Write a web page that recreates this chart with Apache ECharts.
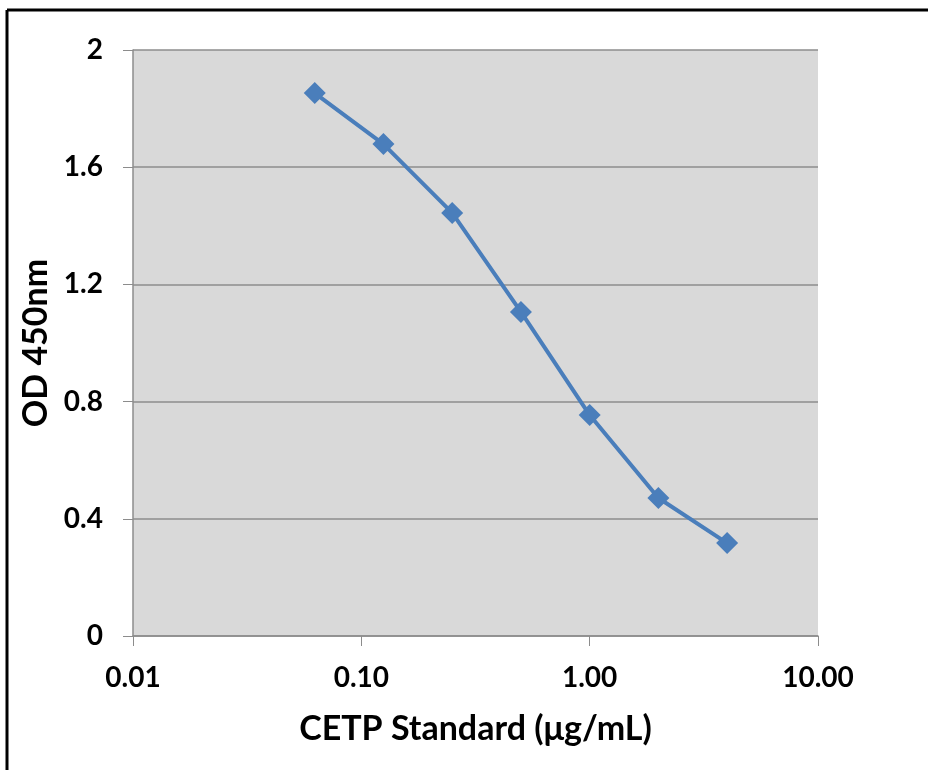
<!DOCTYPE html>
<html><head><meta charset="utf-8">
<script src="https://cdn.jsdelivr.net/npm/echarts@6/dist/echarts.min.js"></script>
<style>html,body{margin:0;padding:0;background:#fff}#c{width:928px;height:770px}</style>
</head><body><div id="c"></div>
<script>
const concentrations = [0.0625, 0.125, 0.25, 0.5, 1, 2, 4];
const odValues = [1.853, 1.679, 1.444, 1.106, 0.754, 0.471, 0.317];
const xTitle = 'CETP Standard (\u03bcg/mL)';
const yTitle = 'OD 450nm';

const chart = echarts.init(document.getElementById('c'));
const font = 'Lato, "Open Sans", sans-serif';
chart.setOption({
  animation: false,
  grid: {left: 133, right: 110, top: 50, bottom: 134, show: true, backgroundColor: '#d9d9d9', borderWidth: 0},
  graphic: [
    {type: 'line', shape: {x1: 7, y1: 10, x2: 928, y2: 10}, style: {stroke: '#000', lineWidth: 3}},
    {type: 'line', shape: {x1: 7, y1: 10, x2: 7, y2: 770}, style: {stroke: '#000', lineWidth: 3}}
  ],
  xAxis: {
    type: 'log', logBase: 10, min: 0.01, max: 10,
    axisLine: {lineStyle: {color: '#8c8c8c', width: 1.5}},
    axisTick: {show: true, length: 10, lineStyle: {color: '#8c8c8c'}},
    splitLine: {show: false},
    minorTick: {show: false},
    axisLabel: {margin: 28, color: '#000', fontFamily: font, fontWeight: 'bold', fontSize: 28,
      formatter: v => Number(v).toFixed(2)},
    name: xTitle, nameLocation: 'middle', nameGap: 76,
    nameTextStyle: {color: '#000', fontFamily: font, fontWeight: 'bold', fontSize: 34}
  },
  yAxis: {
    type: 'value', min: 0, max: 2, interval: 0.4,
    axisLine: {show: true, lineStyle: {color: '#8c8c8c', width: 1.5}},
    axisTick: {show: true, length: 10, lineStyle: {color: '#8c8c8c'}},
    splitLine: {show: true, lineStyle: {color: '#8c8c8c', width: 1.5}},
    axisLabel: {margin: 30, color: '#000', fontFamily: font, fontWeight: 'bold', fontSize: 28},
    name: yTitle, nameLocation: 'middle', nameGap: 70,
    nameTextStyle: {color: '#000', fontFamily: font, fontWeight: 'bold', fontSize: 34}
  },
  series: [{
    type: 'line',
    data: concentrations.map((c, i) => [c, odValues[i]]),
    symbol: 'diamond', symbolSize: 22,
    lineStyle: {color: '#4a7ebb', width: 4},
    itemStyle: {color: '#4a7ebb'}
  }]
});
</script></body></html>
